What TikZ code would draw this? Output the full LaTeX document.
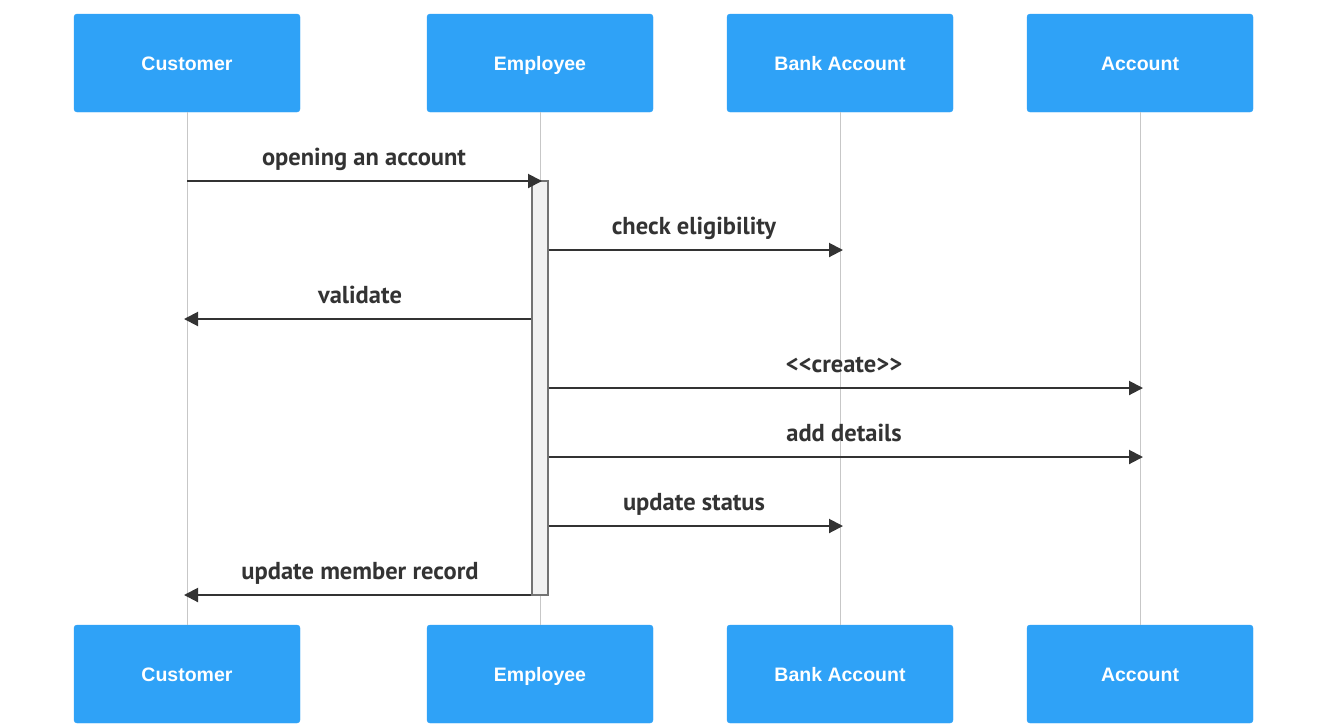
\documentclass[tikz,border=0pt]{standalone}
\usepackage{fontspec}
\setmainfont{Liberation Sans}
\newfontfamily\msgfont{PT Sans}
\usetikzlibrary{arrows.meta}
\definecolor{boxblue}{RGB}{47,162,247}
\definecolor{inkgray}{RGB}{51,51,51}
\tikzset{actor/.style={draw=boxblue, fill=boxblue, rounded corners=3pt, minimum width=226pt, minimum height=98pt, text height=14pt, text depth=0pt, text=white, font=\bfseries\fontsize{19.5}{22}\selectfont}}
\tikzset{lifeline/.style={draw=black!22, line width=1pt}}
\tikzset{actbar/.style={draw=black!55, fill=black!5, line width=1.2pt, minimum width=16pt, minimum height=414pt, inner sep=0pt}}
\tikzset{msg/.style={draw=inkgray, line width=2pt, -{Triangle[length=14pt,width=14pt]}}}
\tikzset{msglabel/.style={text=inkgray, font=\msgfont\bfseries\fontsize{24.5}{28}\selectfont, anchor=base}}

\begin{document}
\begin{tikzpicture}[x=1pt, y=-1pt]
    \useasboundingbox (0,0) rectangle (1327,724);
    % actors, top and bottom
    \node[actor] (cust) at (187,63) {Customer};
    \node[actor] (emp) at (540,63) {Employee};
    \node[actor] (bank) at (840,63) {Bank Account};
    \node[actor] (acct) at (1140,63) {Account};
    \node[actor] (custB) at (187,674) {Customer};
    \node[actor] (empB) at (540,674) {Employee};
    \node[actor] (bankB) at (840,674) {Bank Account};
    \node[actor] (acctB) at (1140,674) {Account};
    % lifelines
    \draw[lifeline] (cust.south) -- (custB.north);
    \draw[lifeline] (emp.south) -- (empB.north);
    \draw[lifeline] (bank.south) -- (bankB.north);
    \draw[lifeline] (acct.south) -- (acctB.north);
    % activation
    \node[actbar] (act) at (540,388) {};
    % message rows
    \foreach \r/\y in {1/181, 2/250, 3/319, 4/388, 5/457, 6/526, 7/595}
        \coordinate (r\r) at (0,\y);
    \draw[msg] (cust |- r1) -- ([xshift=2pt]emp |- r1);
    \draw[msg] (act.east |- r2) -- ([xshift=3pt]bank |- r2);
    \draw[msg] (act.west |- r3) -- ([xshift=-3pt]cust |- r3);
    \draw[msg] (act.east |- r4) -- ([xshift=3pt]acct |- r4);
    \draw[msg] (act.east |- r5) -- ([xshift=3pt]acct |- r5);
    \draw[msg] (act.east |- r6) -- ([xshift=3pt]bank |- r6);
    \draw[msg] (act.west |- r7) -- ([xshift=-3pt]cust |- r7);
    % labels
    \path (364,165) node[msglabel] (l1) {opening an account};
    \path (694,234) node[msglabel] (l2) {check eligibility};
    \path (360,303) node[msglabel] (l3) {validate};
    \path (844,372) node[msglabel] (l4) {<<create>>};
    \path (844,441) node[msglabel] (l5) {add details};
    \path (694,510) node[msglabel] (l6) {update status};
    \path (360,579) node[msglabel] (l7) {update member record};
\end{tikzpicture}
\end{document}
